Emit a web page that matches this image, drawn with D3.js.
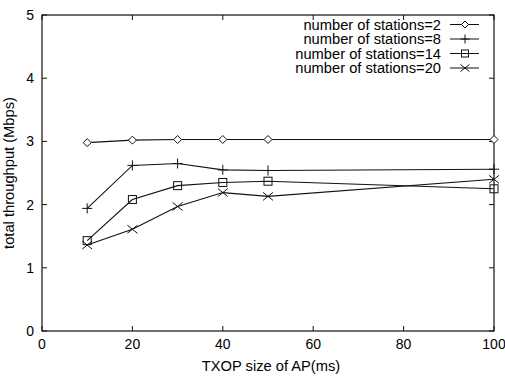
<!DOCTYPE html>
<html>
<head>
<meta charset="utf-8">
<script src="https://cdn.jsdelivr.net/npm/d3@7"></script>
<style>
body { margin: 0; background: #fff; }
text { font-family: "Liberation Sans", Arial, sans-serif; fill: #000; }
</style>
</head>
<body>
<div class="chart"></div>
<script>
var w = 505;
var h = 376;

// TXOP size (ms)
var txop = [10, 20, 30, 40, 50, 100];
var st2 = [2.98, 3.02, 3.03, 3.03, 3.03, 3.03];
var st8 = [1.94, 2.62, 2.65, 2.55, 2.54, 2.56];
var st14 = [1.43, 2.08, 2.30, 2.35, 2.37, 2.25];
var st20 = [1.36, 1.61, 1.97, 2.19, 2.13, 2.40];
var names = ["number of stations=2", "number of stations=8", "number of stations=14", "number of stations=20"];
var markers = ["diamond", "plus", "square", "cross"];
var xTicks = [0, 20, 40, 60, 80, 100];
var yTicks = [0, 1, 2, 3, 4, 5];

var series = [st2, st8, st14, st20];

var m = {left: 42, right: 11, top: 15, bottom: 45};

var svg = d3.select('.chart')
            .append('svg')
            .attr('width', w)
            .attr('height', h);

var x = d3.scaleLinear().domain([0, 100]).range([m.left, w - m.right]);
var y = d3.scaleLinear().domain([0, 5]).range([h - m.bottom, m.top]);

// frame
svg.append('rect')
   .attr('x', x(0)).attr('y', y(5))
   .attr('width', x(100) - x(0)).attr('height', y(0) - y(5))
   .attr('fill', 'none').attr('stroke', '#111').attr('stroke-width', 1.2);

// ticks, inward on every side (gnuplot style)
var tl = 5;
xTicks.forEach(function (t) {
    svg.append('line').attr('x1', x(t)).attr('x2', x(t)).attr('y1', y(0)).attr('y2', y(0) - tl).attr('stroke', '#111');
    svg.append('line').attr('x1', x(t)).attr('x2', x(t)).attr('y1', y(5)).attr('y2', y(5) + tl).attr('stroke', '#111');
    svg.append('text').attr('x', x(t)).attr('y', y(0) + 18).attr('text-anchor', 'middle')
       .attr('font-size', 14).text(t);
});
yTicks.forEach(function (t) {
    svg.append('line').attr('x1', x(0)).attr('x2', x(0) + tl).attr('y1', y(t)).attr('y2', y(t)).attr('stroke', '#111');
    svg.append('line').attr('x1', x(100)).attr('x2', x(100) - tl).attr('y1', y(t)).attr('y2', y(t)).attr('stroke', '#111');
    svg.append('text').attr('x', x(0) - 8).attr('y', y(t) + 5).attr('text-anchor', 'end')
       .attr('font-size', 14).text(t);
});

// axis titles
svg.append('text').attr('x', 271).attr('y', h - 5).attr('text-anchor', 'middle')
   .attr('font-size', 14.7).text('TXOP size of AP(ms)');
svg.append('text').attr('transform', 'translate(14,' + (y(2.5)) + ') rotate(-90)')
   .attr('text-anchor', 'middle').attr('font-size', 14.7).text('total throughput (Mbps)');

function marker(g, type, cx, cy, s) {
    if (type == 'diamond') {
        g.append('path').attr('d', 'M' + (cx - s) + ',' + cy + 'L' + cx + ',' + (cy - s) + 'L' + (cx + s) + ',' + cy + 'L' + cx + ',' + (cy + s) + 'Z')
         .attr('fill', '#fff').attr('stroke', '#111');
    } else if (type == 'plus') {
        g.append('path').attr('d', 'M' + (cx - s - 1) + ',' + cy + 'H' + (cx + s + 1) + 'M' + cx + ',' + (cy - s - 1) + 'V' + (cy + s + 1))
         .attr('stroke', '#111').attr('fill', 'none');
    } else if (type == 'square') {
        g.append('rect').attr('x', cx - s).attr('y', cy - s).attr('width', 2 * s).attr('height', 2 * s)
         .attr('fill', 'none').attr('stroke', '#111');
    } else {
        g.append('path').attr('d', 'M' + (cx - s - 1) + ',' + (cy - s) + 'L' + (cx + s + 1) + ',' + (cy + s) + 'M' + (cx - s - 1) + ',' + (cy + s) + 'L' + (cx + s + 1) + ',' + (cy - s))
         .attr('stroke', '#111').attr('fill', 'none');
    }
}

var line = d3.line().x(function (d) { return x(d[0]); }).y(function (d) { return y(d[1]); });

series.forEach(function (vals, i) {
    var pts = txop.map(function (t, j) { return [t, vals[j]]; });
    var g = svg.append('g');
    g.append('path').attr('d', line(pts)).attr('fill', 'none').attr('stroke', '#111').attr('stroke-width', 1.1);
    pts.forEach(function (p) { marker(g, markers[i], x(p[0]), y(p[1]), 4); });
});

// legend
var lx = 441, ly = 24.5, ls = 14.5;
names.forEach(function (n, i) {
    var yy = ly + i * ls;
    svg.append('text').attr('x', lx).attr('y', yy + 5).attr('text-anchor', 'end').attr('font-size', 14.7).text(n);
    svg.append('line').attr('x1', lx + 9).attr('x2', lx + 38).attr('y1', yy).attr('y2', yy).attr('stroke', '#111');
    marker(svg, markers[i], lx + 24, yy, 3.5);
});
</script>
</body>
</html>
